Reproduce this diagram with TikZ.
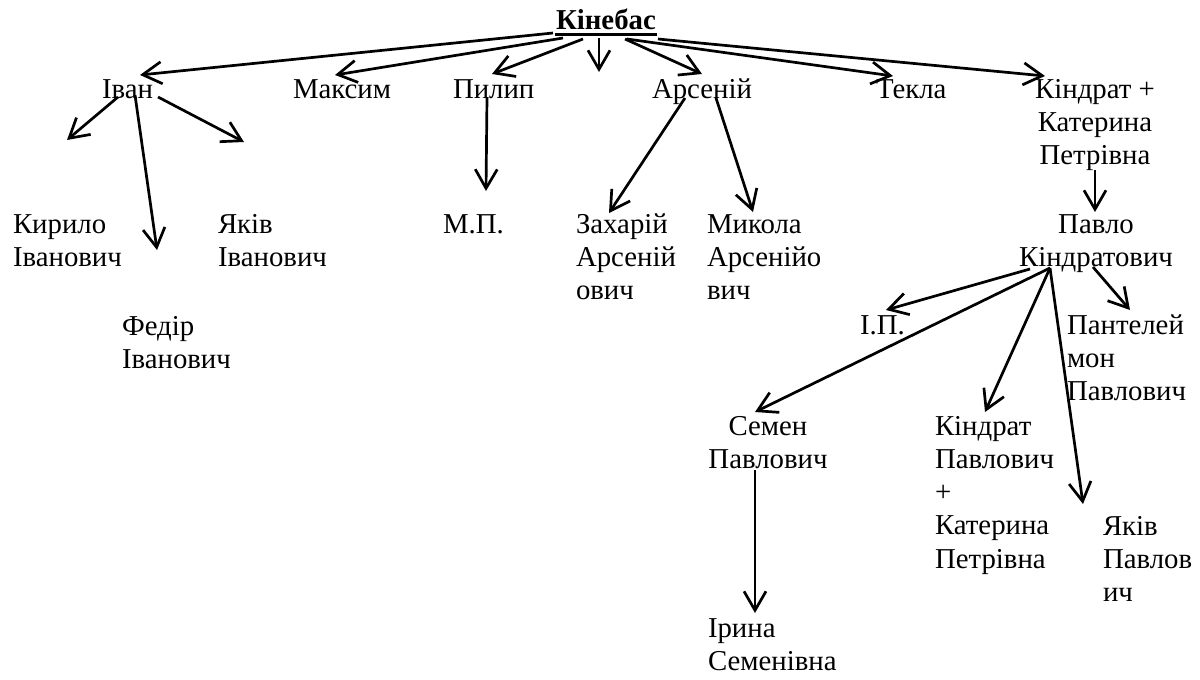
\documentclass[tikz,border=0pt]{standalone}
\usepackage{fontspec}
\setmainfont{Liberation Serif}
\newfontfamily\personfont{Liberation Serif}
\usetikzlibrary{arrows.meta}
\newcommand\LinesL[1]{\begin{tabular}[t]{@{}l@{}}#1\end{tabular}}
\newcommand\LinesC[1]{\begin{tabular}[t]{@{}c@{}}#1\end{tabular}}
\tikzset{
  person/.style={inner sep=0pt, outer sep=0pt, anchor=base west,
    font=\personfont\fontsize{14.4pt}{16.65pt}\selectfont},
  cperson/.style={person, anchor=base},
  link/.style={line width=1.35pt, -{Straight Barb[length=9.5pt,width=11pt]}},
}
\begin{document}
\begin{tikzpicture}[x=0.5pt,y=-0.5pt]
\useasboundingbox (0,0) rectangle (1200,680);
% nodes
\node[person] (kin) at (556,29) {\bfseries Кінебас};
\node[person] (ivan) at (102,98) {Іван};
\node[person] (maksym) at (293,98) {Максим};
\node[person] (pylyp) at (453,98) {Пилип};
\node[person] (arsenii) at (652,98) {Арсеній};
\node[person] (tekla) at (876,98) {Текла};
\node[cperson] (kindrat) at (1095,98) {\LinesC{Кіндрат +\\Катерина\\Петрівна}};
\node[person] (kyrylo) at (13,233) {\LinesL{Кирило\\Іванович}};
\node[person] (yakiv) at (218,233) {\LinesL{Яків\\Іванович}};
\node[person] (fedir) at (122,335) {\LinesL{Федір\\Іванович}};
\node[person] (mp) at (443,233) {М.П.};
\node[person] (zakharii) at (576,233) {\LinesL{Захарій\\Арсеній\\ович}};
\node[person] (mykola) at (707,233) {\LinesL{Микола\\Арсенійо\\вич}};
\node[cperson] (pavlo) at (1096,233) {\LinesC{Павло\\Кіндратович}};
\node[person] (ip) at (860,334) {І.П.};
\node[person] (panteleimon) at (1067,334) {\LinesL{Пантелей\\мон\\Павлович}};
\node[cperson] (semen) at (768,435) {\LinesC{Семен\\Павлович}};
\node[person] (kindratp) at (935,435) {\LinesL{Кіндрат\\Павлович\\+\\Катерина\\Петрівна}};
\node[person] (yakivp) at (1103,535) {\LinesL{Яків\\Павлов\\ич}};
\node[person] (iryna) at (708,637) {\LinesL{Ірина\\Семенівна}};
% underline of the title
\draw[line width=1.5pt] ([shift={(-1,5)}]kin.base west) -- ([shift={(1,5)}]kin.base east);
% connectors from the title
\coordinate (dn) at ([shift={(43,43)}]kin.base west);
\draw[link] ([shift={(-3,4)}]kin.base west) -- ([shift={(38,-23)}]ivan.base west);
\draw[link] ([shift={(7,9)}]kin.base west) -- ([shift={(42,-23)}]maksym.base west);
\draw[link] ([shift={(27,10)}]kin.base west) -- ([shift={(39,-24)}]pylyp.base west);
\draw[link] ([shift={(43,9)}]kin.base west) -- (dn);
\draw[link] ([shift={(69,10)}]kin.base west) -- ([shift={(50,-24)}]arsenii.base west);
\draw[link] ([shift={(71,10)}]kin.base west) -- ([shift={(17,-22)}]tekla.base west);
\draw[link] ([shift={(102,10)}]kin.base west) -- ([shift={(-50,-22)}]kindrat.base);
% Ivan
\draw[link] ([shift={(16,-1)}]ivan.base west) -- ([shift={(54,-93)}]kyrylo.base west);
\draw[link] ([shift={(33,-3)}]ivan.base west) -- ([shift={(35,-85)}]fedir.base west);
\draw[link] ([shift={(56,-1)}]ivan.base west) -- ([shift={(26,-91)}]yakiv.base west);
% Pylyp
\draw[link] ([shift={(34,-1)}]pylyp.base west) -- ([shift={(43,-42)}]mp.base west);
% Arsenii
\draw[link] ([shift={(33,0)}]arsenii.base west) -- ([shift={(33,-20)}]zakharii.base west);
\draw[link] ([shift={(64,0)}]arsenii.base west) -- ([shift={(46,-21)}]mykola.base west);
% Kindrat
\draw[link] ([shift={(0,72)}]kindrat.base) -- ([shift={(-1,-21)}]pavlo.base);
% Pavlo
\coordinate (hub) at ([shift={(-46,35)}]pavlo.base);
\draw[link] ([shift={(-66,36)}]pavlo.base) -- ([shift={(26,-24)}]ip.base west);
\draw[link] (hub) -- ([shift={(-13,-23)}]semen.base);
\draw[link] (hub) -- ([shift={(50,-23)}]kindratp.base west);
\draw[link] (hub) -- ([shift={(-20,-31)}]yakivp.base west);
\draw[link] ([shift={(-3,34)}]pavlo.base) -- ([shift={(63,-24)}]panteleimon.base west);
% Semen
\draw[link] ([shift={(-13,35)}]semen.base) -- ([shift={(47,-24)}]iryna.base west);
\end{tikzpicture}
\end{document}
